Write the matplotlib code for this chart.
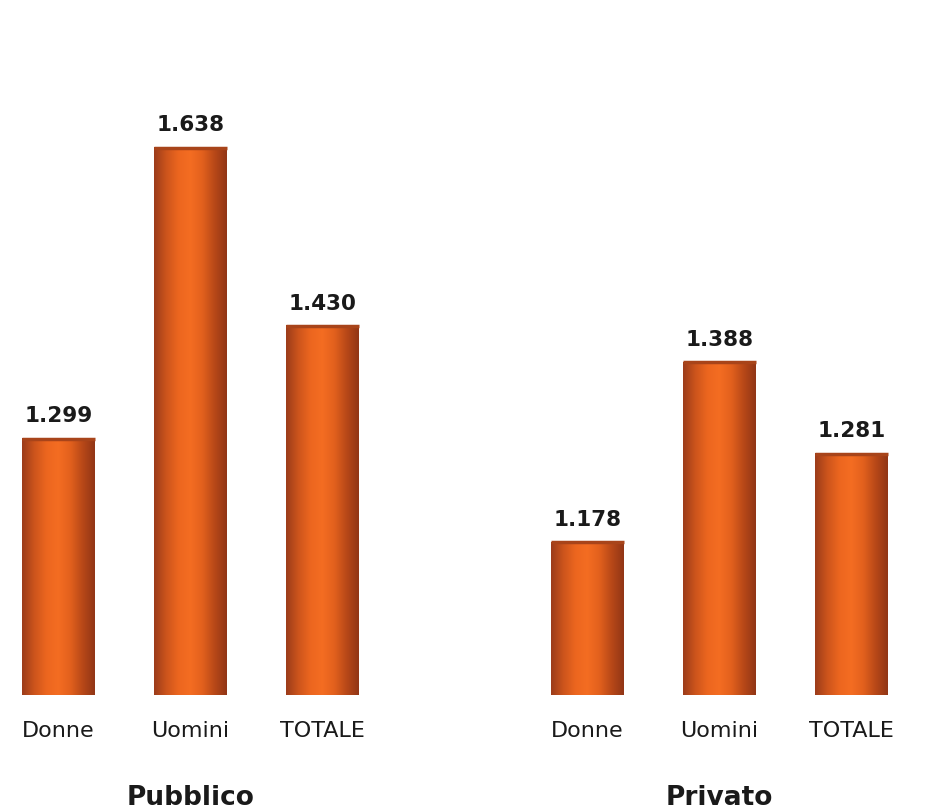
import numpy as np
import matplotlib.pyplot as plt
from matplotlib.colors import LinearSegmentedColormap

# Dati
gruppi = ['Pubblico', 'Privato']
categorie = ['Donne', 'Uomini', 'TOTALE']
pubblico = [1299, 1638, 1430]
privato = [1178, 1388, 1281]
base = 1000

valori = pubblico + privato
posizioni = [0, 1, 2, 4, 5, 6]

fig = plt.figure(figsize=(9.35, 8.11), dpi=100)
ax = fig.add_axes([0, 0, 1, 1])
ax.axis('off')

# gradiente "cilindrico" arancione
cmap = LinearSegmentedColormap.from_list(
    'arancio', ['#9c3c1a', '#cc541c', '#ec661f', '#f46d22', '#e2601d', '#b84818', '#923616'])
grad = np.linspace(0, 1, 200).reshape(1, -1)

barre = ax.bar(posizioni, np.array(valori) - base, bottom=base, width=0.55, color='none')
for b in barre:
    x0, y0 = b.get_xy()
    ax.imshow(grad, extent=[x0, x0 + b.get_width(), y0, y0 + b.get_height()],
              aspect='auto', cmap=cmap, zorder=2)
    # bordo superiore leggermente scuro
    ax.plot([x0, x0 + b.get_width()], [y0 + b.get_height()] * 2, color='#a8441a', lw=2.5,
            solid_capstyle='butt', zorder=3)

for x, v in zip(posizioni, valori):
    ax.annotate(f"{v:,}".replace(',', '.'), (x, v), xytext=(0, 9), textcoords='offset points',
                ha='center', va='bottom', fontsize=15.5, fontweight='bold', color='#1a1a1a')

for x, c in zip(posizioni, categorie * 2):
    ax.annotate(c, (x, base), xytext=(0, -26), textcoords='offset points',
                ha='center', va='center', fontsize=16, color='#1a1a1a')

for x, g in zip([1, 5], gruppi):
    ax.annotate(g, (x, base), xytext=(0, -74), textcoords='offset points',
                ha='center', va='center', fontsize=19, fontweight='bold', color='#1a1a1a')

ax.set_xlim(-0.44, 6.63)
ax.set_ylim(865, 1810)

fig.savefig('out.png', dpi=100)
